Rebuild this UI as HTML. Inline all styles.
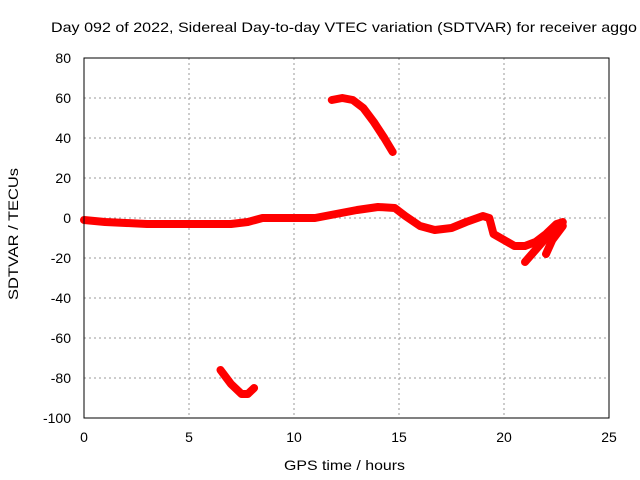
<!DOCTYPE html>
<html><head><meta charset="utf-8"><style>
body{margin:0;background:#fff}
svg{display:block;font-family:"Liberation Sans",sans-serif}
</style></head><body>
<svg id="c" width="640" height="480">
<text x="51" y="32" font-size="14" textLength="586" lengthAdjust="spacingAndGlyphs">Day 092 of 2022, Sidereal Day-to-day VTEC variation (SDTVAR) for receiver aggo</text>
<g id="grid"></g><g id="ticks"></g><g id="series"></g>
<rect x="84" y="58" width="525" height="360" fill="none" stroke="#000"/>
<text x="284" y="470" font-size="14" textLength="121" lengthAdjust="spacingAndGlyphs">GPS time / hours</text>
<text transform="translate(18,300) rotate(-90)" font-size="14" textLength="132" lengthAdjust="spacingAndGlyphs">SDTVAR / TECUs</text>
</svg>
<script>
const xTicks=[0,5,10,15,20,25];
const yTicks=[80,60,40,20,0,-20,-40,-60,-80,-100];
const mainX=[0,1,2,3,4,5,6,7,7.8,8.5,9,10,11,12,13,14,14.8,15.3,16,16.7,17.5,18.2,19,19.3,19.5,20,20.5,21,21.5,22,22.5,22.8];
const mainY=[-1,-2,-2.5,-3,-3,-3,-3,-3,-2,0,0,0,0,2,4,5.5,5,1,-4,-6,-5,-2,1,0,-8,-11,-14,-14,-12,-8,-3,-2];
const br1X=[21,21.5,22,22.5];const br1Y=[-22,-16,-10,-5];
const br2X=[22,22.3,22.8];const br2Y=[-18,-11,-4];
const upX=[11.8,12.3,12.8,13.3,13.8,14.3,14.7];const upY=[59,60,59,55,48,40,33];
const loX=[6.5,7,7.5,7.8,8.1];const loY=[-76,-83,-88,-88,-85];
const NS='http://www.w3.org/2000/svg';
const sx=v=>84+v*21, sy=v=>218-v*2;
const grid=document.getElementById('grid'),ticks=document.getElementById('ticks'),ser=document.getElementById('series');
function mk(t,a,p){const e=document.createElementNS(NS,t);for(const k in a)e.setAttribute(k,a[k]);p.appendChild(e);return e;}
xTicks.forEach(v=>{
 if(v>0&&v<25){const g=mk('line',{x1:sx(v),x2:sx(v),y1:58,y2:418,stroke:'#999','stroke-dasharray':'2,3'},grid);
 
 }
 const t=mk('text',{x:sx(v),y:442,'font-size':14,'text-anchor':'middle'},ticks);t.textContent=v;
 
 
});
yTicks.forEach(v=>{
 if(v<80&&v>-100){const g=mk('line',{x1:84,x2:609,y1:sy(v),y2:sy(v),stroke:'#999','stroke-dasharray':'2,3'},grid);
 
 }
 const t=mk('text',{x:71,y:sy(v)+5,'font-size':14,'text-anchor':'end'},ticks);t.textContent=v;
 
 
});
function line(xs,ys,name){
 const p=mk('polyline',{points:xs.map((x,i)=>sx(x)+','+sy(ys[i])).join(' '),fill:'none',stroke:'#f00','stroke-width':8,'stroke-linejoin':'round','stroke-linecap':'round'},ser);
 
 
}
line(mainX,mainY,'main-series');
line(br1X,br1Y,'branch-series-1');
line(br2X,br2Y,'branch-series-2');
line(upX,upY,'upper-arc-series');
line(loX,loY,'lower-arc-series');
</script>
</body></html>
